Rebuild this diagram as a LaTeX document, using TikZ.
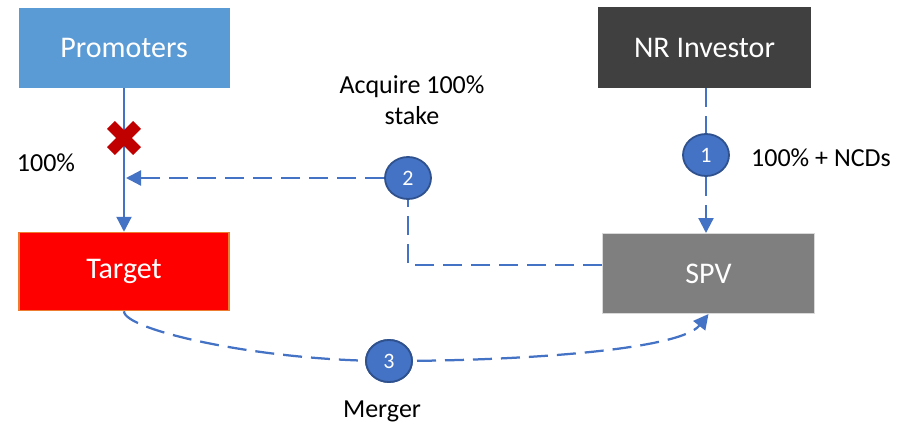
\documentclass[tikz,border=0pt]{standalone}
\usepackage{fontspec}
\setmainfont{Carlito}
\usetikzlibrary{arrows.meta,shapes.geometric}
\definecolor{promblue}{HTML}{5B9BD5}
\definecolor{darkbox}{HTML}{404040}
\definecolor{spvgray}{HTML}{7F7F7F}
\definecolor{spvedge}{HTML}{D9D9D9}
\definecolor{tgtedge}{HTML}{ED7D31}
\definecolor{linkblue}{HTML}{4472C4}
\definecolor{stepedge}{HTML}{2F528F}
\definecolor{crossred}{HTML}{C00000}
\tikzset{
  entity/.style={rectangle, minimum width=211pt, minimum height=80pt, inner sep=0pt,
    text=white, font=\fontsize{30}{36}\selectfont},
  stepmark/.style={ellipse, fill=linkblue, draw=stepedge, line width=1.8pt,
    minimum width=46pt, minimum height=42pt, inner sep=0pt,
    text=white, font=\fontsize{22}{26}\selectfont},
  lbl/.style={font=\fontsize{26}{31}\selectfont, text=black, inner sep=0pt},
  link/.style={draw=linkblue, line width=2.25pt},
  dashlink/.style={link, dash pattern=on 19pt off 9pt},
  tip/.style={-{Triangle[length=15pt,width=15pt]}},
}
\begin{document}
\begin{tikzpicture}[x=1pt, y=-1pt]
\useasboundingbox (0,0) rectangle (899,429);

% entities
\node[entity, fill=promblue] (prom) at (124,47.5) {Promoters};
\node[entity, fill=darkbox, minimum width=213pt, minimum height=81pt] (nri) at (704.5,47.5) {NR Investor};
\node[entity, fill=red, draw=tgtedge, line width=1.5pt, minimum width=210pt, minimum height=78pt] (tgt) at (124,271.5) {Target};
\node[entity, fill=spvgray, draw=spvedge, line width=1pt, minimum width=212pt, minimum height=80pt] (spv) at (708.5,273.5) {SPV};

% numbered steps
\node[stepmark] (s1) at (706,155) {1};
\node[stepmark] (s2) at (408,178) {2};
\node[stepmark] (s3) at (389,361) {3};

% labels
\node[lbl] (l100) at (46,163) {100\%};
\node[lbl, align=center] (lacq) at (412,100) {Acquire 100\%\\stake};
\node[lbl] (lncd) at (821,158) {100\% + NCDs};
\node[lbl] (lmerge) at (382,411) {Merger};

% helper points
\coordinate (hit) at (126,178);
\coordinate (spvin) at (spv.west |- 0,265);

% promoters holding (cut)
\draw[link, tip] (prom.south) -- (tgt.north);

% step 1: investor funds the SPV
\draw[dashlink] (nri.south -| s1) -- (s1.north);
\draw[dashlink, tip] (s1.south) -- (spv.north -| s1);

% step 2: SPV acquires the stake
\draw[dashlink, tip] (s2.west) -- (hit);
\draw[dashlink] (spvin) -- (s2 |- spvin) -- (s2.south);

% step 3: merger
\draw[dashlink] (tgt.south) .. controls (124,330) and (260,361) .. (s3.center);
\draw[dashlink, tip] (s3.center) .. controls (520,361) and (680,350) .. (spv.south);
\node[stepmark] at (s3) {3};

% red cross on the promoters line
\fill[crossred, shift={(124,138)}]
  (0,7.78) -- (9.19,16.97) -- (16.97,9.19) -- (7.78,0) -- (16.97,-9.19) -- (9.19,-16.97)
  -- (0,-7.78) -- (-9.19,-16.97) -- (-16.97,-9.19) -- (-7.78,0) -- (-16.97,9.19)
  -- (-9.19,16.97) -- cycle;
\end{tikzpicture}
\end{document}
